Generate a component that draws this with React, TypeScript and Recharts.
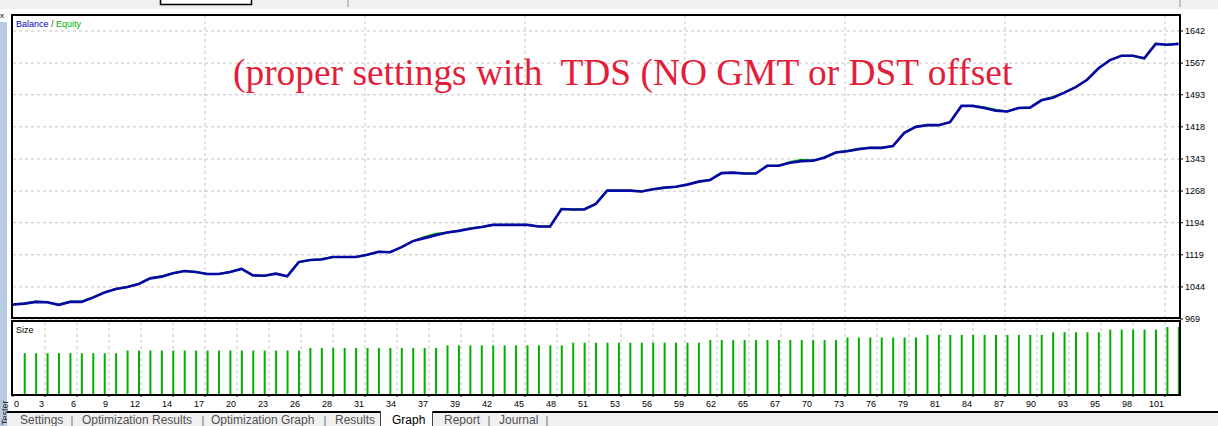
import React from 'react';
import { ComposedChart, Line, Bar, XAxis, YAxis, CartesianGrid } from 'recharts';

// balance after each closed trade (index 0 = start)
const balance = [
  1003, 1005, 1009, 1008, 1002, 1009, 1009, 1019, 1031, 1039,
  1044, 1051, 1064, 1068, 1076, 1081, 1079, 1074, 1074, 1079,
  1086, 1071, 1070, 1075, 1069, 1102, 1107, 1108, 1114, 1114,
  1114, 1119, 1126, 1125, 1137, 1151, 1158, 1165, 1171, 1175,
  1180, 1184, 1189, 1189, 1189, 1189, 1185, 1185, 1226, 1225,
  1225, 1238, 1269, 1269, 1269, 1267, 1272, 1276, 1278, 1283,
  1290, 1294, 1310, 1311, 1309, 1309, 1327, 1327, 1334, 1338,
  1339, 1346, 1358, 1361, 1366, 1369, 1369, 1373, 1404, 1418,
  1422, 1422, 1429, 1467, 1467, 1462, 1456, 1454, 1462, 1463,
  1480, 1486, 1498, 1511, 1528, 1555, 1574, 1584, 1584, 1578,
  1612, 1610, 1612,
];

const equity = [
  1003, 1005, 1010, 1008, 1002, 1010, 1010, 1020, 1031, 1039,
  1044, 1051, 1064, 1069, 1076, 1081, 1079, 1074, 1074, 1079,
  1087, 1071, 1070, 1075, 1069, 1102, 1107, 1109, 1114, 1114,
  1114, 1119, 1126, 1125, 1137, 1151, 1161, 1168, 1171, 1175,
  1181, 1184, 1189, 1189, 1189, 1189, 1185, 1185, 1226, 1225,
  1226, 1238, 1269, 1269, 1269, 1267, 1272, 1275, 1278, 1283,
  1290, 1294, 1310, 1311, 1309, 1309, 1327, 1327, 1336, 1341,
  1339, 1347, 1358, 1362, 1366, 1369, 1369, 1373, 1404, 1418,
  1422, 1422, 1429, 1467, 1467, 1464, 1458, 1454, 1462, 1463,
  1481, 1488, 1498, 1511, 1528, 1555, 1574, 1584, 1584, 1578,
  1612, 1610, 1612,
];

// lot size of trades 1..102
const lotSizes = [
  0.16, 0.16, 0.16, 0.16, 0.16, 0.16, 0.16, 0.16, 0.16, 0.17,
  0.17, 0.17, 0.17, 0.17, 0.17, 0.17, 0.17, 0.17, 0.17, 0.17,
  0.17, 0.17, 0.17, 0.17, 0.17, 0.18, 0.18, 0.18, 0.18, 0.18,
  0.18, 0.18, 0.18, 0.18, 0.18, 0.18, 0.18, 0.19, 0.19, 0.19,
  0.19, 0.19, 0.19, 0.19, 0.19, 0.19, 0.19, 0.19, 0.20, 0.20,
  0.20, 0.20, 0.20, 0.20, 0.20, 0.20, 0.20, 0.20, 0.20, 0.20,
  0.21, 0.21, 0.21, 0.21, 0.21, 0.21, 0.21, 0.21, 0.21, 0.21,
  0.21, 0.21, 0.22, 0.22, 0.22, 0.22, 0.22, 0.22, 0.22, 0.23,
  0.23, 0.23, 0.23, 0.23, 0.23, 0.23, 0.23, 0.23, 0.23, 0.23,
  0.24, 0.24, 0.24, 0.24, 0.24, 0.25, 0.25, 0.25, 0.25, 0.25,
  0.26, 0.26,
];

const yTickLabels = [969, 1044, 1119, 1194, 1268, 1343, 1418, 1493, 1567, 1642];

const xTickLabels = [
  '0', '3', '6', '9', '12', '14', '17', '20', '23', '26', '28', '31', '34',
  '37', '39', '42', '45', '48', '51', '53', '56', '59', '62', '65', '67',
  '70', '73', '76', '79', '81', '84', '87', '90', '93', '95', '98', '101',
];

const tabs = ['Settings', 'Optimization Results', 'Optimization Graph', 'Results', 'Graph', 'Report', 'Journal'];
const tabX = [20, 82, 211, 335, 392, 444, 499];
const tabSeps = [72, 203, 325, 489, 547];

// layout: one trade every ~11.43px, grid every 32px
const PX_PER_TRADE = 11.427;
const PLOT_W = 1167;
const X_MAX = PLOT_W / PX_PER_TRADE;
const GRID_STEP = 32 / PX_PER_TRADE;
const gridTicks = xTickLabels.map((_, k) => k * GRID_STEP);

const lineRows = balance.map((b, i) => ({ i, balance: b, equity: equity[i] }));
const sizeRows = lotSizes.map((s, k) => ({ i: k + 1, size: s }));

const FONT = "'Liberation Sans', Arial, sans-serif";

const YTick = (props: any) => (
  <text x={props.x} y={props.y} dy={3.3} fontSize={9} fontFamily={FONT} fill="#000">
    {props.payload.value}
  </text>
);

const XTick = (props: any) => {
  const first = props.index === 0;
  return (
    <text
      x={first ? props.x + 1 : props.x - 1}
      y={props.y + 10}
      textAnchor={first ? 'start' : 'end'}
      fontSize={9}
      fontFamily={FONT}
      fill="#000"
    >
      {xTickLabels[props.index]}
    </text>
  );
};

export default function App() {
  return (
    <div style={{ position: 'fixed', left: 0, top: 0, width: 1218, height: 426, background: '#fff', overflow: 'hidden' }}>
      <div style={{ position: 'absolute', left: 0, top: 0 }}>
        <ComposedChart width={1218} height={330} data={lineRows} margin={{ top: 15, right: 0, bottom: 11, left: 13 }}>
          <CartesianGrid
            stroke="#c4c4c4"
            strokeDasharray="3 3"
            verticalValues={gridTicks.slice(1)}
            horizontalValues={yTickLabels}
          />
          <XAxis type="number" dataKey="i" domain={[0, X_MAX]} ticks={gridTicks} hide allowDataOverflow />
          <YAxis
            orientation="right"
            type="number"
            width={38}
            domain={[969, 1679.4]}
            ticks={yTickLabels}
            interval={0}
            allowDataOverflow
            axisLine={false}
            tickLine={{ stroke: '#000' }}
            tickSize={3}
            tickMargin={2}
            tick={YTick}
          />
          <Line type="linear" dataKey="equity" stroke="#00b400" strokeWidth={2} dot={false} isAnimationActive={false} />
          <Line type="linear" dataKey="balance" stroke="#0808a4" strokeWidth={2.6} dot={false} isAnimationActive={false} />
        </ComposedChart>
      </div>
      <div style={{ position: 'absolute', left: 0, top: 315 }}>
        <ComposedChart width={1218} height={111} data={sizeRows} margin={{ top: 7, right: 38, bottom: 0, left: 13 }}>
          <CartesianGrid stroke="#c4c4c4" strokeDasharray="3 3" horizontal={false} verticalValues={gridTicks.slice(1)} />
          <XAxis
            type="number"
            dataKey="i"
            domain={[0, X_MAX]}
            ticks={gridTicks}
            interval={0}
            allowDataOverflow
            height={31}
            axisLine={false}
            tickLine={{ stroke: '#000' }}
            tickSize={2}
            tickMargin={0}
            tick={XTick}
          />
          <YAxis hide domain={[0, 0.2792]} allowDataOverflow />
          <Bar dataKey="size" fill="#00b000" barSize={2} isAnimationActive={false} />
        </ComposedChart>
      </div>
      <svg width={1218} height={426} style={{ position: 'absolute', left: 0, top: 0, pointerEvents: 'none' }}>
        {/* panel frames */}
        <rect x={12} y={15} width={1168} height={303} fill="none" stroke="#000" strokeWidth={2} />
        <rect x={12} y={321} width={1168} height={74} fill="none" stroke="#000" strokeWidth={2} />

        {/* window bits around the chart */}
        <rect x={0} y={0} width={1218} height={9} fill="#f0f0f0" />
        <rect x={160.5} y={-6} width={91} height={10.5} fill="#fff" stroke="#000" strokeWidth={1.5} />
        <line x1={348} y1={0} x2={348} y2={7} stroke="#909090" />
        <line x1={1180} y1={0} x2={1180} y2={7} stroke="#909090" />
        <text x={0} y={18} fontSize={8} fontFamily={FONT} fill="#000">x</text>
        <rect x={0} y={22} width={7} height={404} fill="#b6cae2" />
        <text x={7.5} y={425} fontSize={9} fontFamily={FONT} fill="#202020" transform="rotate(-90 7.5 425)">Tester</text>

        {/* legends */}
        <text x={16} y={27} fontSize={9} fontFamily={FONT}>
          <tspan fill="#0000c0">Balance</tspan>
          <tspan fill="#404040"> / </tspan>
          <tspan fill="#00b000">Equity</tspan>
        </text>
        <text x={16} y={333} fontSize={9} fontFamily={FONT} fill="#000">Size</text>

        {/* annotation */}
        <text
          x={233}
          y={85}
          fontSize={37.4}
          fontFamily="'Liberation Serif', 'Times New Roman', serif"
          fill="#e41e3a"
          style={{ whiteSpace: 'pre' }}
        >
          (proper settings with  TDS (NO GMT or DST offset
        </text>

        {/* tab bar */}
        <rect x={7} y={412} width={1211} height={14} fill="#f0f0f0" />
        <line x1={7} y1={412} x2={381} y2={412} stroke="#000" strokeWidth={2} />
        <line x1={432} y1={412} x2={1218} y2={412} stroke="#000" strokeWidth={2} />
        <rect x={381} y={412} width={51} height={15} fill="#fff" />
        <line x1={380.5} y1={411} x2={380.5} y2={426} stroke="#404040" />
        <line x1={432.5} y1={411} x2={432.5} y2={426} stroke="#404040" />
        {tabs.map((t, k) => (
          <text key={t} x={tabX[k]} y={423.5} fontSize={12} fontFamily={FONT} fill={t === 'Graph' ? '#000' : '#505050'}>
            {t}
          </text>
        ))}
        {tabSeps.map((x) => (
          <line key={x} x1={x} y1={416} x2={x} y2={426} stroke="#707070" />
        ))}
      </svg>
    </div>
  );
}
